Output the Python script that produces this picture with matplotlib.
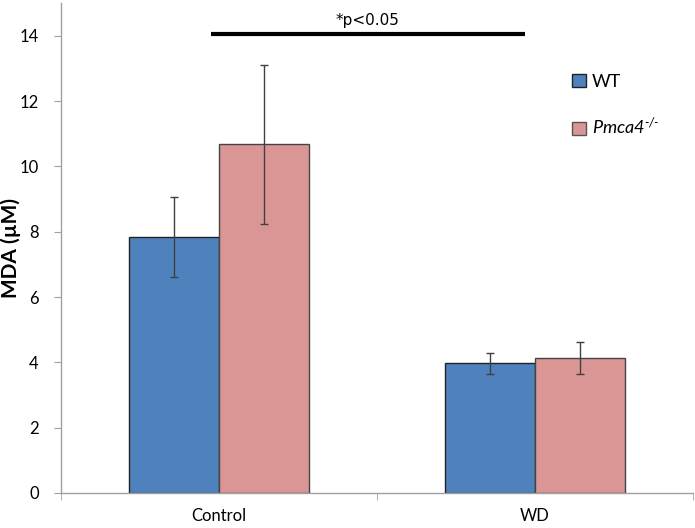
import numpy as np
import matplotlib
matplotlib.use("Agg")
import matplotlib.pyplot as plt
from matplotlib.patches import Patch

groups = ["Control", "WD"]
series = ["WT", "Pmca4$^{\\text{-/-}}$"]
wt_mean = [7.83, 3.97]
wt_err = [1.23, 0.33]
ko_mean = [10.67, 4.13]
ko_err = [2.43, 0.5]
colors = ["#4F81BD", "#D99694"]

plt.rcParams["font.family"] = ["Lato", "DejaVu Sans"]
plt.rcParams["mathtext.fontset"] = "custom"
plt.rcParams["mathtext.rm"] = "Lato:italic"
plt.rcParams["mathtext.it"] = "Lato:italic"

fig = plt.figure(figsize=(6.95, 5.28), dpi=100)
ax = fig.add_axes([0.0878, 0.0663, 0.9094, 0.928])

x = np.arange(len(groups))
w = 0.285
err_kw = dict(ecolor="#404040", elinewidth=1, capsize=3, capthick=1)
ax.bar(x - w / 2, wt_mean, w, yerr=wt_err, color=colors[0],
       edgecolor="#222222", linewidth=1, error_kw=err_kw)
ax.bar(x + w / 2, ko_mean, w, yerr=ko_err, color=colors[1],
       edgecolor="#444444", linewidth=1, error_kw=err_kw)

# significance bar
ax.plot([-0.025, 0.968], [14.04, 14.04], color="black", lw=3, solid_capstyle="butt")
ax.text(0.47, 14.25, "*p<0.05", ha="center", va="bottom", fontsize=11,
        family="DejaVu Sans")

ax.set_xlim(-0.5, 1.5)
ax.set_ylim(0, 15)
ax.set_yticks(range(0, 15, 2))
ax.set_xticks(x)
ax.set_xticklabels(groups, fontsize=12)
ax.set_xticks([-0.5, 0.5, 1.5], minor=True)
ax.tick_params(axis="x", which="major", length=0, pad=11)
ax.tick_params(axis="x", which="minor", length=5, color="#A0A0A0")
ax.tick_params(axis="y", labelsize=12, length=5, color="#A0A0A0", pad=11)

for s in ["top", "right"]:
    ax.spines[s].set_visible(False)
for s in ["left", "bottom"]:
    ax.spines[s].set_color("#A0A0A0")
    ax.spines[s].set_linewidth(1)

ax.set_ylabel("MDA (µM)", fontsize=15, fontweight="bold")
ax.yaxis.set_label_coords(-0.063, 0.5)

handles = [Patch(facecolor=colors[0], edgecolor="#222222"),
           Patch(facecolor=colors[1], edgecolor="#555555")]
leg = ax.legend(handles, series, loc="upper left", bbox_to_anchor=(0.809, 0.855),
                frameon=False, fontsize=13, handlelength=0.75, handleheight=0.75,
                handletextpad=0.35, labelspacing=1.45, borderpad=0, borderaxespad=0)
leg.get_texts()[1].set_style("italic")

fig.savefig("out.png", dpi=100)
